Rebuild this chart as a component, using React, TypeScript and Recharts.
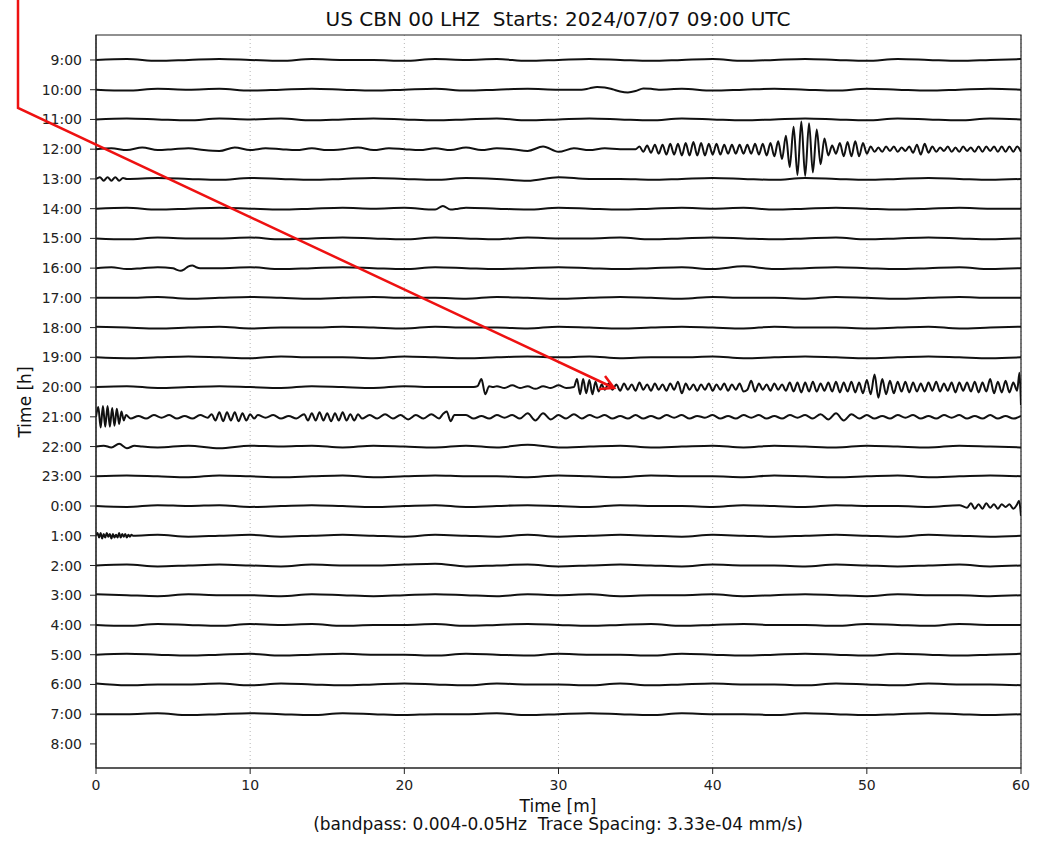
import React from 'react';
import { LineChart, Line, XAxis, YAxis, CartesianGrid, ReferenceArea } from 'recharts';

// helicorder: one trace per hour, 60 minutes across
const HOUR_LABELS = [
  '9:00', '10:00', '11:00', '12:00', '13:00', '14:00', '15:00', '16:00',
  '17:00', '18:00', '19:00', '20:00', '21:00', '22:00', '23:00', '0:00',
  '1:00', '2:00', '3:00', '4:00', '5:00', '6:00', '7:00', '8:00',
];
const MINUTE_TICKS = [0, 10, 20, 30, 40, 50, 60];

// amplitudes in 1e-5 mm/s, trace spacing 3.33e-04 mm/s
const TRACE_SPACING = 33.3;

// each segment: [start minute, sample step (min), amplitudes]
type Seg = [number, number, number[]];

const TRACE_0900: Seg[] = [
  [0, 2, [0, 1, -1, 0, 1, 0, -1, 1, 0, 0, -1, 1, 0, 1, -1, 0, 1, 0, -1, 0, 1, -1, 0, 1, 0, -1, 1, 0, -1, 0, 1]],
];
const TRACE_1000: Seg[] = [
  [0, 2, [0, -1, 1, 0, 1, -1, 0, 1, 0, -1, 0, 1, -1, 0, 1, 0]],
  [31.5, 0.5, [0, 1.5, 3, 2.5, 0.5, -2, -3, -1.5, 1.5, 1, 0]],
  [38, 2, [1, -1, 0, 1, 0, -1, 1, 0, -1, 0, 1, 0]],
];
const TRACE_1100: Seg[] = [
  [0, 2, [0, 1, 0, -1, 1, 0, 1, -1, 0, 1, 0, -1, 0, 1, -1, 0, 1, 0, -1, 1, 0, -1, 0, 1, 0, -1, 1, 0, -1, 1, 0]],
];
const TRACE_1200: Seg[] = [
  [0, 1, [0, 1, -1, 2, -1, 0, 1, -1, -2, 2, -1, 1, 0, -1, 1, -1, 0, 2, -1, 1, 0, -1, 1, -1, 2, -1, 1, 0, -2, 3, -3, 1, -1, 1, 0]],
  [35, 0.25, [0, 3, -3, 4, -4, 5, -5, 5, -6, 6, -6, 6, -7, 7, -7, 8, -7, 7, -7, 6, -6, 6, -6, 5, -5, 5, -5, 5, -5, 5, -5, 6, -6, 6, -7, 7, -8, 9]],
  [44.5, 0.25, [-11, 15, -20, 25, -29, 31, -30, 29, -26, 22, -17, 12, -7]],
  [47.75, 0.25, [4, -5, 7, -8, 8, -8, 9, -8, 7, -5]],
  [50.25, 0.25, [3, -3, 2, -3, 3, -2, 3, -3, 2, -2, 3, -4, 5, -6, 6, -4, 3, -3, 2, -2, 3, -3, 2, -3, 3, -2, 2, -3, 3, -3, 3, -2, 3, -3, 3, -3, 3, -3, 3, -3]],
];
const TRACE_1300: Seg[] = [
  [0, 0.25, [0, 2, -2, 2, -2, 2, -2, 1, 0]],
  [4, 2, [1, 0, -1, 1, 0, -1, 0, 1, 0, -1, 1, 0, -2, 2, 0, 0, -1, 0, 1, 0, -1, 1, 0, -1, 0, 1, 0, -1, 0]],
];
const TRACE_1400: Seg[] = [
  [0, 2, [0, 1, -1, 0, 1, 0, -1, 0, 1, 0, 1, -1]],
  [22.5, 0.5, [3, -1, 0]],
  [24, 2, [1, 0, -1, 1, 0, -1, 0, 1, 0, 1, -1, 0, 1, 0, -1, 0, 1, 0, 0]],
];
const TRACE_1500: Seg[] = [
  [0, 2, [0, -1, 1, 0, 0, 1, -1, 0, 1, 0, -1, 1, 0, -1, 1, 0, 0, 1, -1, 0, 1, 0, -1, 0, 1, -1, 0, 1, 0, -1, 0]],
];
const TRACE_1600: Seg[] = [
  [0, 1, [0, 1, -1, 0, 1]],
  [5, 0.25, [0, -2, -3, -1, 2, 3, 1, 0]],
  [8, 2, [0, 1, -1, 0, 1, 0, -1, 1, 0, -1, 0, 1, 0, -1, 0, 1, -1, 2, -1, 0, 1, 0, -1, 0, 1, -1, 0]],
];
const TRACE_1700: Seg[] = [
  [0, 2, [0, 0, 1, -1, 0, 1, 0, -1, 0, 1, 0, 0, -1, 1, 0, -1, 0, 1, 0, -1, 1, 0, 0, -1, 1, 0, -1, 0, 1, 0, 0]],
];
const TRACE_1800: Seg[] = [
  [0, 2, [1, 0, -1, 0, 1, -1, 0, 0, 1, 0, -1, 1, 0, 0, -1, 1, 0, -1, 0, 1, 0, -1, 1, 0, 0, -1, 0, 1, -1, 0, 1]],
];
const TRACE_1900: Seg[] = [
  [0, 2, [0, -1, 0, 1, 0, -1, 1, 0, 0, -1, 1, 0, -1, 0, 1, 0, 1, -1, 0, 0, 1, -1, 0, 1, 0, -1, 0, 1, 0, -1, 0]],
];
const TRACE_2000: Seg[] = [
  [0, 2, [0, 1, -1, 0, 1, 0, -1, 1, 0, -1, 1, 0]],
  [24.5, 0.25, [0, 1, 9, -8, 1, 0]],
  [26, 0.5, [1, -1, 2, -1, 1, -2, 1, -1, 2, -1]],
  [31, 0.2, [0, 9, -8, 9, -7, 8, -8, 6, -5, 3]],
  [33, 0.25, [-3, 4, -3, 3, -4, 4, -3, 3, -4, 5, -3, 3, -4, 4, -3, 3, -4, 4, -3, 6, -7, 4, -3, 3, -4, 3, -3, 4, -4]],
  [40.25, 0.25, [3, -3, 4, -4, 3, -3, 4, -5, -3, 7, -5, 4, -3, 3, -4, 4, -3, 3, -4, 5, -5, 5, -6, 5, -5, 6, -5, 4, -4, 5, -5, 6, -6, 5, -5, 6, -6, 5, -7, 8]],
  [50.25, 0.25, [-8, 14, -12, 9, -8, 7, -7, 6, -5, 6, -6, 5, -5, 4, -5, 5, -4, 6, -5, 4, -4, 5, -6, 5, -4, 5, -5, 6, -6, 5, -5, 9, -7, 6, -6, 7, -6, 5, -4]],
  [59.9, 0.1, [16, -20]],
];
const TRACE_2100: Seg[] = [
  [0, 0.15, [0, 11, -12, 12, -11, 12, -11, 10, -10, 9, -8, 6, -4, 2]],
  [2.25, 0.5, [-2, 1, -2, 2, -1, 2, -2, 1, -2, 2, -1]],
  [7.5, 0.25, [3, -4, 5, -5, 5, -4, 5, -5, 4, -4, 3, -2]],
  [10.5, 0.5, [2, -1, 2, -2, 1, -2]],
  [13.5, 0.25, [3, -4, 4, -4, 5, -4, 4, -5, 4, -4, 5, -4, 3, -4, 3, -2]],
  [17.75, 0.5, [2, -2, 3, -2, 2, -3, 2, -2, 3, -2]],
  [22.5, 0.25, [3, 6, -5, 2]],
  [24, 0.5, [
    2, -2, 1, -2, 2, -1, 2, -2,
    4, -4, 4, -3,
    2, -2, 3, -2, 2, -1, 2, -2, 1, -2, 2, -2,
    1, -2, 2, -1, 2, -2, 1, -1, 2, -2, 1, -2,
    2, -1, 2, -2, 1, -2, 2, -1, 2, -2, 3, -3,
    4, -4, 3, -2,
    2, -2, 1, -2, 2, -1, 2, -2, 1, -2, 2, -1,
    2, -2, 1, -2, 2, -2, 1, -2, 1,
  ]],
];
const TRACE_2200: Seg[] = [
  [0, 0.5, [0, 1, -1, 3, -2, 1, 0]],
  [4, 2, [-1, 1, -2, 1, 0, 1, -1, 1, 0, -1, 1, -1, 2, -1, 0, 1, -1, 0, 1, -1, 1, 0, -1, 1, 0, -1, 1, 0, -1]],
];
const TRACE_2300: Seg[] = [
  [0, 2, [0, 1, 0, -1, 1, 0, -1, 0, 1, -1, 0, 1, 0, 0, -1, 1, 0, -1, 1, 0, 0, -1, 1, 0, -1, 0, 1, -1, 0, 1, 0]],
];
const TRACE_0000: Seg[] = [
  [0, 2, [0, -1, 1, 0, 1, -1, 0, 1, 0, -1, 0, 1, -1, 0, 1, 0, -1, 1, 0, 0, -1, 1, 0, -1, 1, 0, 0, -1, 1]],
  [56.5, 0.25, [-2, 3, -3, 2, -3, 3, -2, 2, -3, 2, -1, 2, -3]],
  [59.75, 0.125, [2, 6, -11]],
];
const TRACE_0100: Seg[] = [
  [0, 0.1, [0, 3, -2, 3, -3, 2, -2, 3, -1, 2, -3, 2, -2, 1, -2, 3, -2, 2, -1, 2, -2, 1, -1, 1, 0]],
  [4, 2, [1, -1, 0, 1, -1, 0, 1, 0, -1, 1, 0, -1, 1, -1, 0, 1, 0, -1, 1, 0, -1, 0, 1, 0, -1, 1, 0, -1, 0]],
];
const TRACE_0200: Seg[] = [
  [0, 2, [0, 1, -1, 0, 1, 0, -1, 1, 0, 0, 1, 2, -1, 0, 1, -1, 0, 1, 0, -1, 1, 0, 0, -1, 1, 0, -1, 0, 1, -1, 0]],
];
const TRACE_0300: Seg[] = [
  [0, 2, [1, 0, -1, 1, 0, 0, -1, 1, 0, -1, 0, 1, 0, -1, 1, 0, 1, -1, 0, 0, 1, -1, 0, 1, 0, -1, 1, 0, 0, -1, 0]],
];
const TRACE_0400: Seg[] = [
  [0, 2, [0, -1, 1, 0, -1, 1, 0, 1, -1, 0, 0, 1, -1, 0, 1, 0, -1, 0, 1, -1, 0, 1, 0, 0, -1, 1, 0, -1, 1, 0, 0]],
];
const TRACE_0500: Seg[] = [
  [0, 2, [0, 1, 0, -1, 0, 1, -1, 0, 1, 0, 0, -1, 1, 0, -1, 1, 0, 0, -1, 1, 0, -1, 0, 1, 0, -1, 1, 0, -1, 0, 1]],
];
const TRACE_0600: Seg[] = [
  [0, 2, [1, -1, 0, 0, 1, -1, 1, 0, -1, 0, 1, 0, -1, 1, 0, 0, -1, 1, -1, 0, 1, 0, 0, -1, 1, 0, -1, 1, 0, 0, -1]],
];
const TRACE_0700: Seg[] = [
  [0, 2, [0, 0, 1, -1, 0, 1, 0, -1, 1, 0, -1, 0, 0, 1, -1, 0, 1, 0, -1, 1, 0, 0, -1, 1, 0, -1, 0, 1, 0, -1, 0]],
];

// 8:00 row has no data yet
const TRACES: Seg[][] = [
  TRACE_0900, TRACE_1000, TRACE_1100, TRACE_1200, TRACE_1300, TRACE_1400,
  TRACE_1500, TRACE_1600, TRACE_1700, TRACE_1800, TRACE_1900, TRACE_2000,
  TRACE_2100, TRACE_2200, TRACE_2300, TRACE_0000, TRACE_0100, TRACE_0200,
  TRACE_0300, TRACE_0400, TRACE_0500, TRACE_0600, TRACE_0700,
];

const FONT = '"DejaVu Sans", sans-serif';
const Y_DOMAIN: [number, number] = [-23.81, 0.84];

function toPoints(segs: Seg[], row: number) {
  const pts: { t: number; y: number }[] = [];
  segs.forEach(([t0, dt, amps]) => {
    amps.forEach((a, k) => {
      const t = Math.round((t0 + k * dt) * 1000) / 1000;
      pts.push({ t, y: -row + a / TRACE_SPACING });
    });
  });
  return pts;
}

function YTick({ x, y, payload }: any) {
  return (
    <text x={x} y={y} dy="0.36em" textAnchor="end" fontSize={14} fontFamily={FONT} fill="#222">
      {HOUR_LABELS[Math.round(-payload.value)]}
    </text>
  );
}

function XTick({ x, y, payload }: any) {
  return (
    <text x={x} y={y} dy="0.71em" textAnchor="middle" fontSize={14} fontFamily={FONT} fill="#222">
      {payload.value}
    </text>
  );
}

export default function App() {
  const series = TRACES.map((segs, i) => toPoints(segs, i));
  const rowTicks = HOUR_LABELS.map((_, i) => -i);

  return (
    <div style={{ position: 'absolute', left: 0, top: 0, width: 1062, height: 846, background: '#fff' }}>
      <LineChart width={1062} height={846} margin={{ top: 35, right: 41, bottom: 0, left: 0 }}>
        <CartesianGrid horizontal={false} stroke="#b5b5b5" strokeDasharray="1 3" />
        <XAxis
          type="number"
          dataKey="t"
          domain={[0, 60]}
          ticks={MINUTE_TICKS}
          allowDataOverflow
          height={78}
          tickSize={6}
          tickMargin={6}
          tick={<XTick />}
          axisLine={{ stroke: '#222' }}
          tickLine={{ stroke: '#222' }}
        />
        <YAxis
          type="number"
          domain={Y_DOMAIN}
          ticks={rowTicks}
          allowDataOverflow
          width={96}
          tickSize={6}
          tickMargin={8}
          tick={<YTick />}
          axisLine={{ stroke: '#222' }}
          tickLine={{ stroke: '#222' }}
        />
        {series.map((data, i) => (
          <Line
            key={HOUR_LABELS[i]}
            data={data}
            dataKey="y"
            type="monotoneX"
            stroke="#111"
            strokeWidth={2}
            dot={false}
            activeDot={false}
            isAnimationActive={false}
          />
        ))}
        <ReferenceArea x1={0} x2={60} y1={Y_DOMAIN[0]} y2={Y_DOMAIN[1]} fill="none" stroke="#222" strokeWidth={1.2} />
      </LineChart>

      <svg width={1062} height={846} style={{ position: 'absolute', left: 0, top: 0, pointerEvents: 'none' }}>
        <text x={558} y={26} textAnchor="middle" fontSize={20} fontFamily={FONT} fill="#111">
          US CBN 00 LHZ{'\u00a0\u00a0'}Starts: 2024/07/07 09:00 UTC
        </text>
        <text x={558} y={812} textAnchor="middle" fontSize={17} fontFamily={FONT} fill="#111">
          Time [m]
        </text>
        <text x={558} y={830} textAnchor="middle" fontSize={17} fontFamily={FONT} fill="#111">
          (bandpass: 0.004-0.05Hz{'\u00a0\u00a0'}Trace Spacing: 3.33e-04 mm/s)
        </text>
        <text
          transform="translate(31,402) rotate(-90)"
          textAnchor="middle"
          fontSize={17}
          fontFamily={FONT}
          fill="#111"
        >
          Time [h]
        </text>
        {/* red annotation arrow */}
        <polyline points="18,0 18,108 614,388" fill="none" stroke="#ee1111" strokeWidth={2.5} />
        <polyline points="605,376 614,388 599,389" fill="none" stroke="#ee1111" strokeWidth={2.5} />
      </svg>
    </div>
  );
}
